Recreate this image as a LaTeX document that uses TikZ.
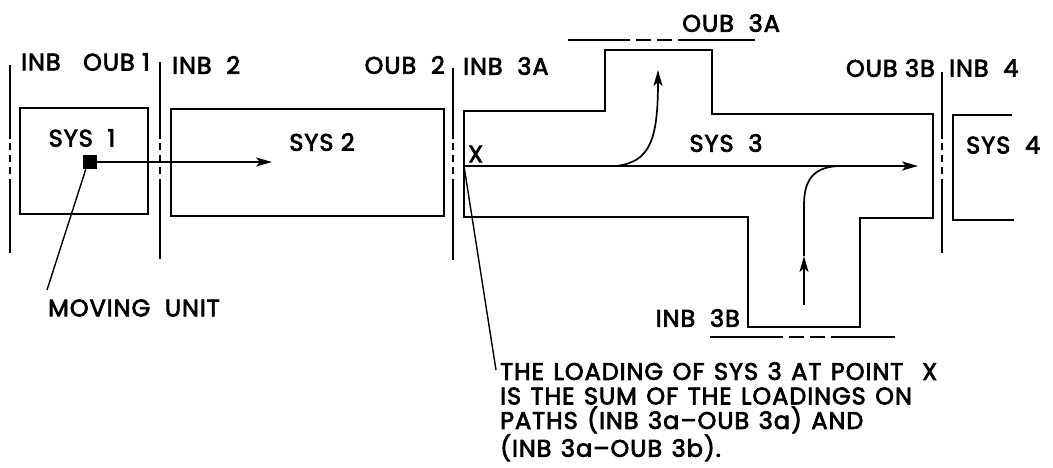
\documentclass[tikz,border=0pt]{standalone}
\usepackage{fontspec}
\setmainfont{Poppins}[LetterSpace=4,FakeBold=3]
\usetikzlibrary{arrows.meta}
\tikzset{
  wall/.style={line width=2.4pt,line join=miter},
  bound/.style={line width=1.8pt},
  lead/.style={line width=1.4pt},
  flow/.style={line width=1.7pt,-{Stealth[length=16pt,width=9pt,inset=4pt]}},
  lbl/.style={font=\fontsize{24}{24.5}\selectfont,inner sep=0pt},
}

\begin{document}
\begin{tikzpicture}[x=1pt,y=-1pt]
  \useasboundingbox (0,0) rectangle (1053,468);
  % interface lines: x / top / bottom
  \foreach \bx/\bt/\bb in {10/65/253,160/62/259,453/68/260,942/72/253}{
    \draw[bound] (\bx,\bt)--(\bx,139) (\bx,181)--(\bx,\bb);
    \draw[bound,dash pattern=on 7pt off 5pt,dash phase=-4pt] (\bx,139)--(\bx,181);
  }
  % the systems
  \draw[wall] (20,108) rectangle (148,214);
  \draw[wall] (171,109) rectangle (444,216);
  \draw[wall] (464,111)--(605,111)--(605,50)--(712,50)--(712,114)--(933,114)--(933,218)
              --(860,218)--(860,327)--(748,327)--(748,217)--(464,217)--cycle;
  \draw[wall] (1012,115)--(953,115)--(953,220)--(1014,220);
  % branch openings
  \draw[bound] (568,40)--(630,40) (682,40)--(755,40);
  \draw[bound,dash pattern=on 15pt off 6pt,dash phase=-6pt] (630,40)--(682,40);
  \draw[bound] (710,337)--(783,337) (838,337)--(895,337);
  \draw[bound,dash pattern=on 15pt off 6pt,dash phase=-6pt] (783,337)--(838,337);
  % labels
  \node[lbl,anchor=west] (inb1) at (21,62) {INB};
  \node[lbl,anchor=east] (oub1) at (150,62) {OUB 1};
  \node[lbl,anchor=west] (inb2) at (172,65) {INB\ \ 2};
  \node[lbl,anchor=east] (oub2) at (445,65) {OUB\ \ 2};
  \node[lbl,anchor=west] (inb3a) at (463,66) {INB\ \ 3A};
  \node[lbl,anchor=west] (oub3a) at (682,23) {OUB\ \ 3A};
  \node[lbl,anchor=east] (oub3b) at (935,68) {OUB 3B};
  \node[lbl,anchor=west] (inb4) at (949,68) {INB\ \ 4};
  \node[lbl,anchor=east] (inb3b) at (740,318) {INB\ \ 3B};
  \node[lbl] (sys1) at (82,138) {SYS\ \ 1};
  \node[lbl] (sys2) at (322,142) {SYS 2};
  \node[lbl] (sys3) at (726,143) {SYS\ \ 3};
  \node[lbl,anchor=west] (sys4) at (966,145) {SYS\ \ 4};
  \node[lbl,anchor=west] (ptx) at (468,154) {X};
  \node[lbl,anchor=west] (mu) at (48,308) {MOVING\ \ UNIT};
  \node[lbl,anchor=north west,align=left,execute at begin node={\spaceskip=9.5pt}] (note) at (500,362)
    {THE LOADING OF SYS 3 AT POINT\ \ X\\IS THE SUM OF THE LOADINGS ON\\
     PATHS (INB 3a--OUB 3a) AND\\(INB 3a--OUB 3b).};
  % moving unit and its path
  \node[fill,minimum size=14pt,inner sep=0pt] (unit) at (90,162) {};
  \coordinate (unittip) at (272,162);
  \coordinate (muend) at (47,290);
  \draw[flow] (unit.east) -- (unittip);
  \draw[lead] (unit.south west) ++(3,0) -- (muend);
  % flows through SYS 3
  \coordinate (xpt) at (464,166);
  \coordinate (tip3b) at (918,166);
  \coordinate (fork) at (616,166);
  \coordinate (tip3a) at (658,70);
  \coordinate (inlet) at (804,305);
  \coordinate (turn) at (804,256);
  \coordinate (join) at (842,166);
  \coordinate (noteend) at (496,370);
  \draw[flow] (xpt) -- (tip3b);
  \draw[flow] (fork) .. controls (650,162) and (658,140) .. (tip3a);
  \draw[flow] (inlet) -- (turn);
  \draw[lead,line width=1.7pt] (turn) -- (804,205) .. controls (804,178) and (815,166) .. (join);
  \draw[lead] (xpt) -- (noteend);
\end{tikzpicture}
\end{document}
